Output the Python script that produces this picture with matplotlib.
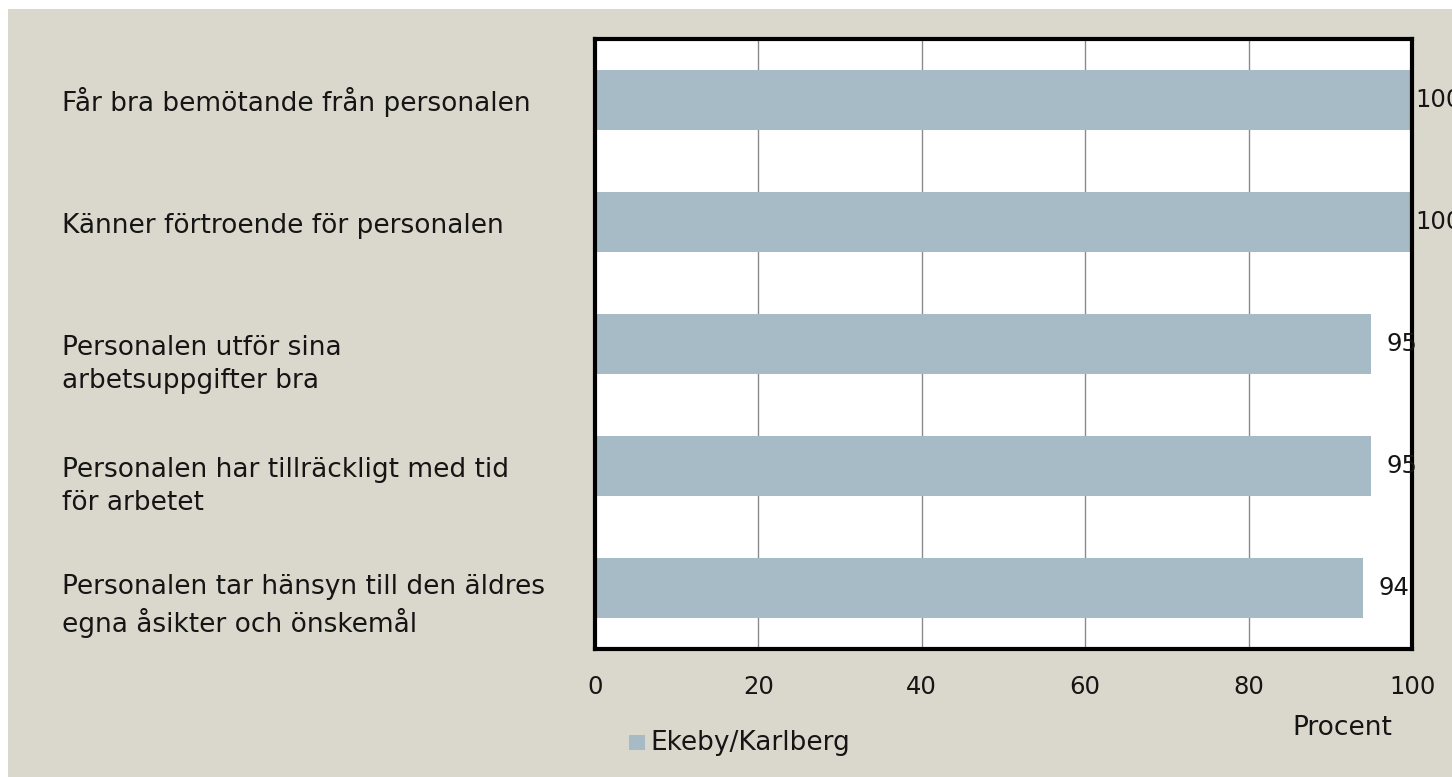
import matplotlib.pyplot as plt
from matplotlib.patches import Rectangle

categories = [
    'Får bra bemötande från personalen',
    'Känner förtroende för personalen',
    'Personalen utför sina\narbetsuppgifter bra',
    'Personalen har tillräckligt med tid\nför arbetet',
    'Personalen tar hänsyn till den äldres\negna åsikter och önskemål',
]
values = [100, 100, 95, 95, 94]
series_name = 'Ekeby/Karlberg'
xticks = [0, 20, 40, 60, 80, 100]

bg = '#dad8cc'
bar_color = '#a6bbc6'
txt = '#151515'
fs_num = 17.5
fs_txt = 19
plt.rcParams['font.family'] = ['DejaVu Sans']

W, H = 1452, 777
fig = plt.figure(figsize=(W / 100, H / 100), dpi=100)
fig.patches.append(Rectangle((8 / W, 0), 1, 1 - 9 / H, transform=fig.transFigure,
                             facecolor=bg, edgecolor='none', zorder=-10))

ax = fig.add_axes([595 / W, 1 - 649 / H, 817 / W, 610 / H])
ax.set_facecolor('white')
y = list(range(len(categories)))
ax.barh(y, values, height=0.49, color=bar_color, zorder=2)
ax.set_xlim(0, 100)
ax.set_ylim(len(categories) - 0.5, -0.5)
ax.set_xticks(xticks)
ax.set_xticklabels([str(t) for t in xticks], fontsize=fs_num, color=txt)
ax.tick_params(axis='x', length=0, pad=19)
ax.set_yticks([])
ax.grid(axis='x', color='#8a8a8a', linewidth=1, zorder=1)
for s in ax.spines.values():
    s.set_linewidth(3)
    s.set_color('black')
    s.set_zorder(5)

# category labels: first line sits on the bar centre, extra lines go below
# (va='baseline' anchors the last line, so push it down per extra line)
for i, c in enumerate(categories):
    n = c.count('\n')
    dy = -(11 + n * 33) * 0.72
    ax.annotate(c, xy=(62 / W, i), xycoords=('figure fraction', 'data'),
                xytext=(0, dy), textcoords='offset points',
                fontsize=fs_txt, color=txt, ha='left', va='baseline',
                linespacing=1.33, annotation_clip=False)

# value labels
for i, v in enumerate(values):
    xv = min(v + 1.85, 100.35)
    ax.text(xv, i, str(v), fontsize=fs_num, color=txt, ha='left', va='center',
            clip_on=False, zorder=6)

fig.text(1292 / W, 1 - 728 / H, 'Procent', fontsize=fs_txt, color=txt,
         ha='left', va='center')
fig.patches.append(Rectangle((629 / W, 1 - 750 / H), 16 / W, 15 / H,
                             transform=fig.transFigure, facecolor=bar_color,
                             edgecolor='none'))
fig.text(650 / W, 1 - 743 / H, series_name, fontsize=fs_txt, color=txt,
         ha='left', va='center')

fig.savefig('out.png', dpi=100)
